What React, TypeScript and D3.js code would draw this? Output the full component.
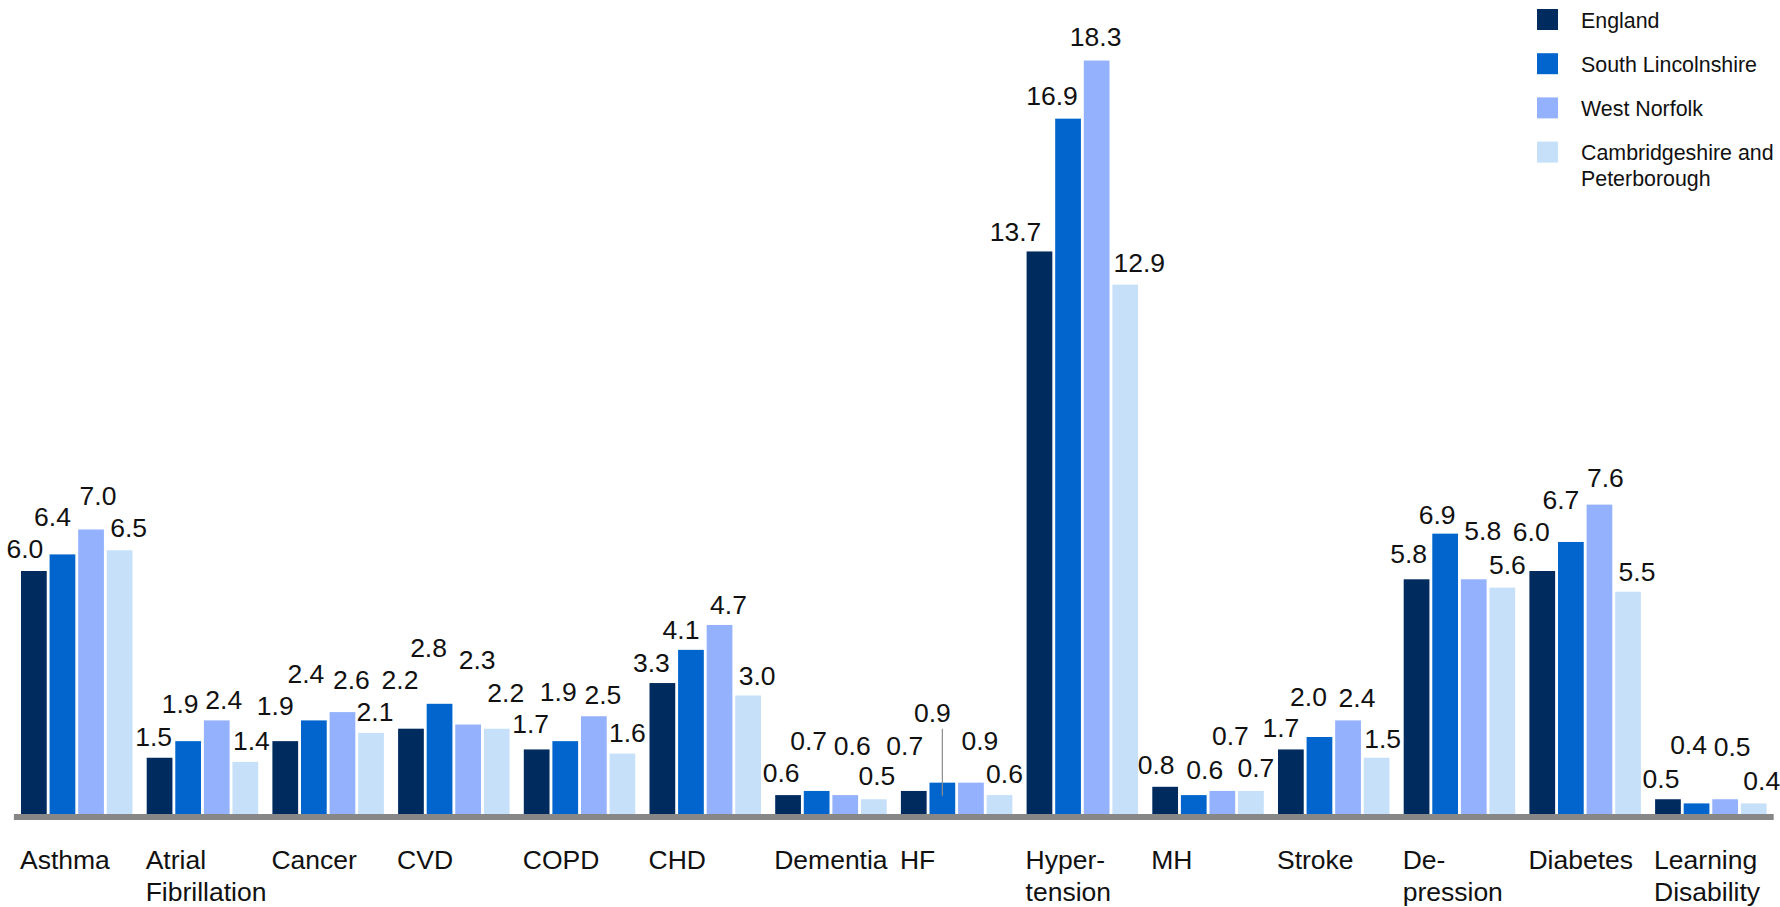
import React from "react";
import * as d3 from "d3";

// Disease categories along the x axis
const categories = [
  "Asthma",
  "Atrial Fibrillation",
  "Cancer",
  "CVD",
  "COPD",
  "CHD",
  "Dementia",
  "HF",
  "Hypertension",
  "MH",
  "Stroke",
  "Depression",
  "Diabetes",
  "Learning Disability",
];

// How each category name is broken over lines under the axis
const categoryLines = [
  ["Asthma"],
  ["Atrial", "Fibrillation"],
  ["Cancer"],
  ["CVD"],
  ["COPD"],
  ["CHD"],
  ["Dementia"],
  ["HF"],
  ["Hyper-", "tension"],
  ["MH"],
  ["Stroke"],
  ["De-", "pression"],
  ["Diabetes"],
  ["Learning", "Disability"],
];

const seriesNames = ["England", "South Lincolnshire", "West Norfolk", "Cambridgeshire and Peterborough"];
const legendLines = [["England"], ["South Lincolnshire"], ["West Norfolk"], ["Cambridgeshire and", "Peterborough"]];

// Prevalence (%) by area
const england = [6.0, 1.5, 1.9, 2.2, 1.7, 3.3, 0.6, 0.7, 13.7, 0.8, 1.7, 5.8, 6.0, 0.5];
const southLincolnshire = [6.4, 1.9, 2.4, 2.8, 1.9, 4.1, 0.7, 0.9, 16.9, 0.6, 2.0, 6.9, 6.7, 0.4];
const westNorfolk = [7.0, 2.4, 2.6, 2.3, 2.5, 4.7, 0.6, 0.9, 18.3, 0.7, 2.4, 5.8, 7.6, 0.5];
const cambsPeterborough = [6.5, 1.4, 2.1, 2.2, 1.6, 3.0, 0.5, 0.6, 12.9, 0.7, 1.5, 5.6, 5.5, 0.4];

const seriesValues = [england, southLincolnshire, westNorfolk, cambsPeterborough];
const seriesColors = ["#002b5f", "#0265cd", "#93b1fd", "#c6e0fa"];

// Data-label placement: horizontal shift from the bar centre and lift above the bar top
const labelShiftX = [
  [-9, -10, 7, 9],
  [-6, -8, 7, 6],
  [-10, -8, 9, 4],
  [-11, -11, 9, 9],
  [-6, -7, 9, 5],
  [-11, -10, 9, 9],
  [-7, -8, 7, 3],
  [-9, -10, 9, 5],
  [-24, -16, -1, 14],
  [-9, 11, 8, 5],
  [-10, -11, 9, 6],
  [-8, -8, 9, 5],
  [-11, -10, 6, 9],
  [-7, -8, 7, 8],
];
const labelLift = [
  [13, 28, 25, 13],
  [12, 28, 11, 12],
  [26, 37, 23, 12],
  [40, 47, 56, 27],
  [16, 40, 12, 12],
  [11, 11, 11, 11],
  [13, 41, 40, 14],
  [36, 61, 33, 12],
  [10, 14, 15, 13],
  [13, 16, 46, 14],
  [12, 31, 13, 10],
  [16, 10, 39, 14],
  [30, 33, 18, 11],
  [11, 49, 43, 13],
];
// The one label pulled away from its bar with a leader line: [category, series]
const leaderLabel = [7, 1];

const W = 1780;
const H = 907;
const FONT = "'Liberation Sans', Arial, Helvetica, sans-serif";

export default function App() {
  const x0 = d3
    .scaleBand<string>()
    .domain(categories)
    .range([13.9, 1773.7])
    .paddingInner(0.113)
    .paddingOuter(0.0565);
  const x1 = d3
    .scaleBand<number>()
    .domain([0, 1, 2, 3])
    .range([0, x0.bandwidth()])
    .paddingInner(0.1);
  const y = d3.scaleLinear().domain([0, 20]).range([820, -10]);
  const bw = x1.bandwidth();
  const [rx0, rx1] = x0.range();

  return (
    <svg
      width={W}
      height={H}
      viewBox={`0 0 ${W} ${H}`}
      style={{ position: "absolute", left: 0, top: 0, background: "#fff", fontFamily: FONT }}
    >
      {categories.map((cat, ci) => (
        <g key={cat}>
          {seriesValues.map((vals, si) => {
            const v = vals[ci];
            const bx = (x0(cat) as number) + (x1(si) as number);
            const top = y(v);
            return (
              <rect
                key={si}
                x={bx}
                y={top}
                width={bw}
                height={y(0) - top}
                fill={seriesColors[si]}
              />
            );
          })}
        </g>
      ))}

      {/* category axis */}
      <line x1={rx0} x2={rx1} y1={y(0) - 3} y2={y(0) - 3} stroke="#878787" strokeWidth={6} />

      {/* data labels */}
      {categories.map((cat, ci) =>
        seriesValues.map((vals, si) => {
          const v = vals[ci];
          const cx = (x0(cat) as number) + (x1(si) as number) + bw / 2;
          const top = y(v);
          const base = top - labelLift[ci][si];
          const hasLeader = leaderLabel[0] === ci && leaderLabel[1] === si;
          return (
            <g key={`${ci}-${si}`}>
              {hasLeader && (
                <line x1={cx} x2={cx} y1={base + 7} y2={top + 13} stroke="#8c8c8c" strokeWidth={1.2} />
              )}
              <text
                x={cx + labelShiftX[ci][si]}
                y={base}
                textAnchor="middle"
                fontSize={26.5}
                fill="#111"
              >
                {v.toFixed(1)}
              </text>
            </g>
          );
        })
      )}

      {/* category labels */}
      {categories.map((cat, ci) => (
        <text key={cat} x={(x0(cat) as number) - 1} y={869} fontSize={26.5} fill="#111">
          {categoryLines[ci].map((ln, li) => (
            <tspan key={li} x={(x0(cat) as number) - 1} dy={li === 0 ? 0 : 32}>
              {ln}
            </tspan>
          ))}
        </text>
      ))}

      {/* legend */}
      {seriesNames.map((name, si) => {
        const top = 9 + si * 44.2;
        return (
          <g key={name}>
            <rect x={1537} y={top} width={21} height={21} fill={seriesColors[si]} />
            <text x={1581} y={top + 18.5} fontSize={21.4} fill="#111">
              {legendLines[si].map((ln, li) => (
                <tspan key={li} x={1581} dy={li === 0 ? 0 : 26}>
                  {ln}
                </tspan>
              ))}
            </text>
          </g>
        );
      })}
    </svg>
  );
}
